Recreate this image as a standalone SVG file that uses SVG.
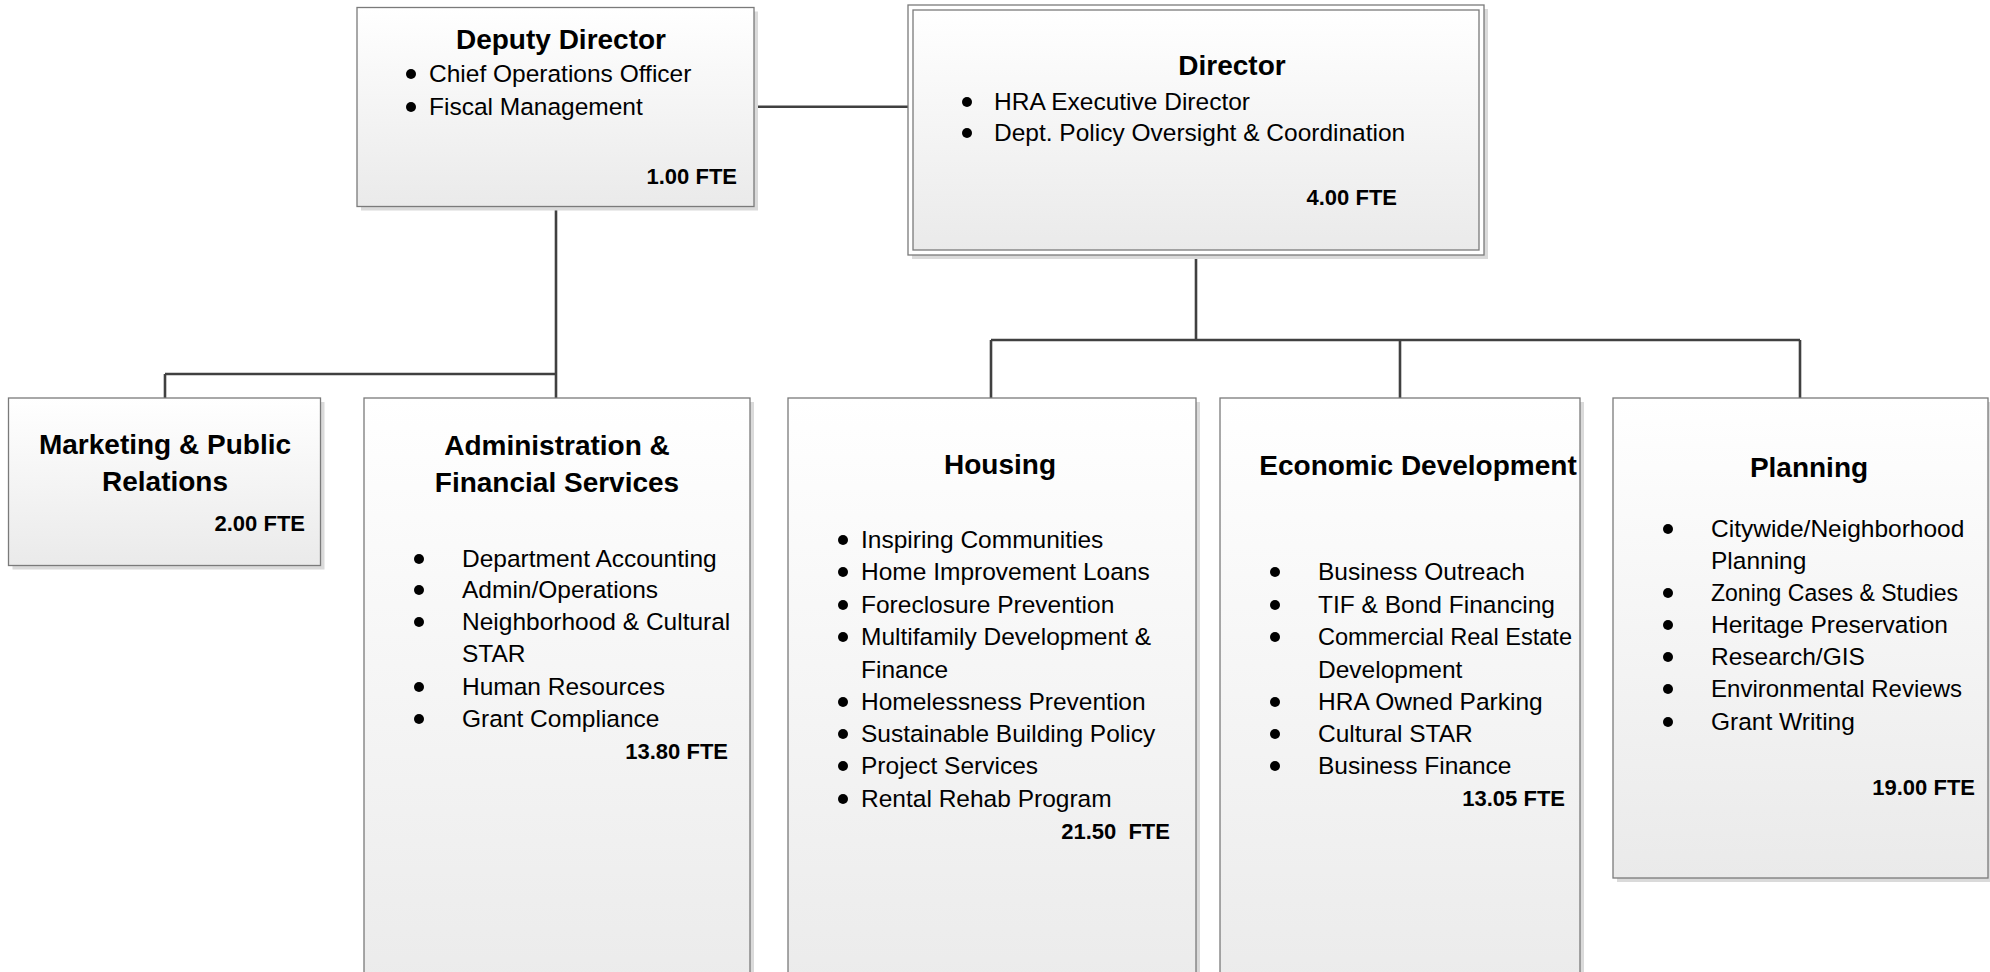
<svg xmlns="http://www.w3.org/2000/svg" width="1990" height="972" viewBox="0 0 1990 972">
<style>
text{font-family:"Liberation Sans",Arial,sans-serif;fill:#000}
.t{font-size:28px;font-weight:bold;text-anchor:middle}
.b{font-size:24.5px}
.f{font-size:22px;font-weight:bold;text-anchor:end;white-space:pre}
.box{fill:url(#g);stroke:#7a7a7a;stroke-width:1.3}
.sh{fill:#dadada}
.dot{fill:#000}
.con{fill:none;stroke:#404040;stroke-width:2.6}
</style>
<defs>
<linearGradient id="g" x1="0" y1="0" x2="0" y2="1">
<stop offset="0" stop-color="#ffffff"/>
<stop offset="1" stop-color="#eaeaea"/>
</linearGradient>
</defs>
<rect width="1990" height="972" fill="#fff"/>
<g id="connectors">
<path class="con" d="M754 106.7H908"/>
<path class="con" d="M556 206.7V398M165 374H556M165 374V398"/>
<path class="con" d="M1196 255V340M991 340H1800M991 340V398M1400 340V398M1800 340V398"/>
</g>
<g id="deputy-director">
<rect class="sh" x="361" y="11.5" width="397" height="199"/>
<rect class="box" x="357" y="7.5" width="397" height="199"/>
<text class="t" x="561" y="49">Deputy Director</text>
<circle class="dot" cx="411" cy="74" r="5"/><text class="b" x="429" y="82">Chief Operations Officer</text>
<circle class="dot" cx="411" cy="107" r="5"/><text class="b" x="429" y="115">Fiscal Management</text>
<text class="f" x="737" y="184">1.00 FTE</text>
</g>
<g id="director">
<rect class="sh" x="912" y="9" width="576" height="250"/>
<rect x="908" y="5" width="576" height="250" fill="#fff" stroke="#7a7a7a" stroke-width="1.3"/>
<rect class="box" x="913" y="10" width="566" height="240"/>
<text class="t" x="1232" y="75">Director</text>
<circle class="dot" cx="967" cy="102" r="5"/><text class="b" x="994" y="110">HRA Executive Director</text>
<circle class="dot" cx="967" cy="133" r="5"/><text class="b" x="994" y="141">Dept. Policy Oversight &amp; Coordination</text>
<text class="f" x="1397" y="205">4.00 FTE</text>
</g>
<g id="marketing">
<rect class="sh" x="12.5" y="402" width="312" height="167.5"/>
<rect class="box" x="8.5" y="398" width="312" height="167.5"/>
<text class="t" x="165" y="454">Marketing &amp; Public</text>
<text class="t" x="165" y="491">Relations</text>
<text class="f" x="305" y="531">2.00 FTE</text>
</g>
<g id="admin">
<rect class="sh" x="368" y="402" width="386" height="620"/>
<rect class="box" x="364" y="398" width="386" height="620"/>
<text class="t" x="557" y="455">Administration &amp;</text>
<text class="t" x="557" y="492">Financial Services</text>
<circle class="dot" cx="419" cy="559" r="5"/><text class="b" x="462" y="567">Department Accounting</text>
<circle class="dot" cx="419" cy="590" r="5"/><text class="b" x="462" y="598">Admin/Operations</text>
<circle class="dot" cx="419" cy="622" r="5"/><text class="b" x="462" y="630">Neighborhood &amp; Cultural</text>
<text class="b" x="462" y="662">STAR</text>
<circle class="dot" cx="419" cy="687" r="5"/><text class="b" x="462" y="695">Human Resources</text>
<circle class="dot" cx="419" cy="719" r="5"/><text class="b" x="462" y="727">Grant Compliance</text>
<text class="f" x="728" y="759">13.80 FTE</text>
</g>
<g id="housing">
<rect class="sh" x="792" y="402" width="408" height="620"/>
<rect class="box" x="788" y="398" width="408" height="620"/>
<text class="t" x="1000" y="474">Housing</text>
<circle class="dot" cx="843" cy="540" r="5"/><text class="b" x="861" y="548">Inspiring Communities</text>
<circle class="dot" cx="843" cy="572" r="5"/><text class="b" x="861" y="580">Home Improvement Loans</text>
<circle class="dot" cx="843" cy="605" r="5"/><text class="b" x="861" y="613">Foreclosure Prevention</text>
<circle class="dot" cx="843" cy="637" r="5"/><text class="b" x="861" y="645">Multifamily Development &amp;</text>
<text class="b" x="861" y="678">Finance</text>
<circle class="dot" cx="843" cy="702" r="5"/><text class="b" x="861" y="710">Homelessness Prevention</text>
<circle class="dot" cx="843" cy="734" r="5"/><text class="b" x="861" y="742">Sustainable Building Policy</text>
<circle class="dot" cx="843" cy="766" r="5"/><text class="b" x="861" y="774">Project Services</text>
<circle class="dot" cx="843" cy="799" r="5"/><text class="b" x="861" y="807">Rental Rehab Program</text>
<text class="f" x="1170" y="839">21.50  FTE</text>
</g>
<g id="economic-development">
<rect class="sh" x="1224" y="402" width="360" height="620"/>
<rect class="box" x="1220" y="398" width="360" height="620"/>
<text class="t" x="1418" y="475">Economic Development</text>
<circle class="dot" cx="1275" cy="572" r="5"/><text class="b" x="1318" y="580">Business Outreach</text>
<circle class="dot" cx="1275" cy="605" r="5"/><text class="b" x="1318" y="613">TIF &amp; Bond Financing</text>
<circle class="dot" cx="1275" cy="637" r="5"/><text class="b" x="1318" y="645" textLength="254" lengthAdjust="spacingAndGlyphs">Commercial Real Estate</text>
<text class="b" x="1318" y="678">Development</text>
<circle class="dot" cx="1275" cy="702" r="5"/><text class="b" x="1318" y="710">HRA Owned Parking</text>
<circle class="dot" cx="1275" cy="734" r="5"/><text class="b" x="1318" y="742">Cultural STAR</text>
<circle class="dot" cx="1275" cy="766" r="5"/><text class="b" x="1318" y="774">Business Finance</text>
<text class="f" x="1565" y="806">13.05 FTE</text>
</g>
<g id="planning">
<rect class="sh" x="1617" y="402" width="375" height="480"/>
<rect class="box" x="1613" y="398" width="375" height="480"/>
<text class="t" x="1809" y="477">Planning</text>
<circle class="dot" cx="1668" cy="529" r="5"/><text class="b" x="1711" y="537">Citywide/Neighborhood</text>
<text class="b" x="1711" y="569">Planning</text>
<circle class="dot" cx="1668" cy="593" r="5"/><text class="b" x="1711" y="601" textLength="247" lengthAdjust="spacingAndGlyphs">Zoning Cases &amp; Studies</text>
<circle class="dot" cx="1668" cy="625" r="5"/><text class="b" x="1711" y="633">Heritage Preservation</text>
<circle class="dot" cx="1668" cy="657" r="5"/><text class="b" x="1711" y="665">Research/GIS</text>
<circle class="dot" cx="1668" cy="689" r="5"/><text class="b" x="1711" y="697" textLength="251" lengthAdjust="spacingAndGlyphs">Environmental Reviews</text>
<circle class="dot" cx="1668" cy="722" r="5"/><text class="b" x="1711" y="730">Grant Writing</text>
<text class="f" x="1975" y="795">19.00 FTE</text>
</g>
</svg>
